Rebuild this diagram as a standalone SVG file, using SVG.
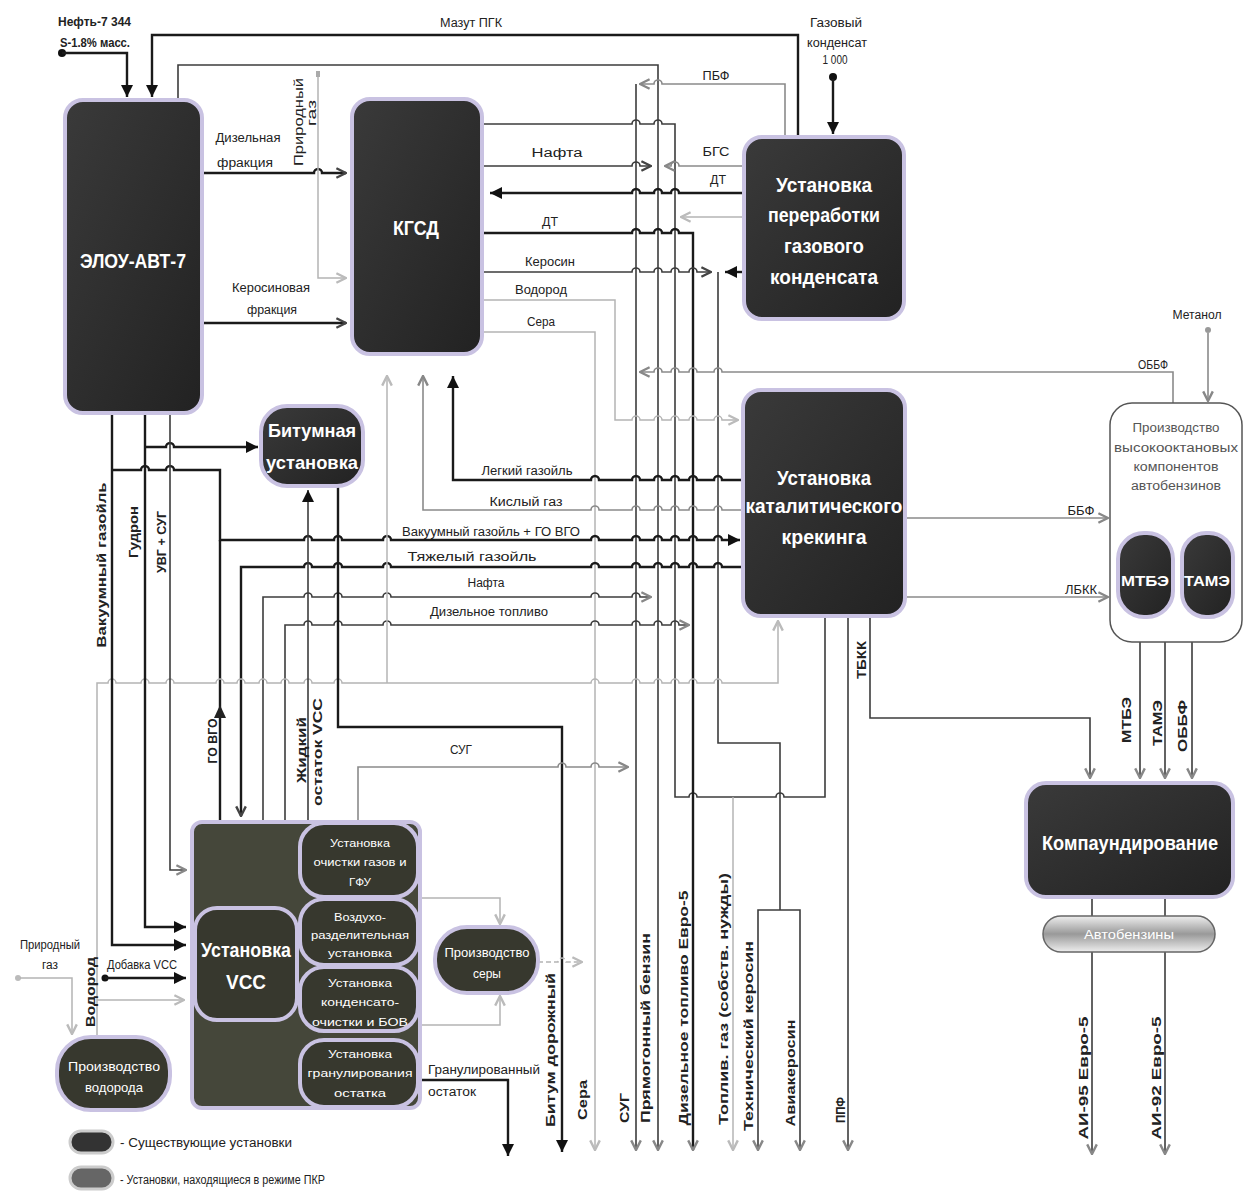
<svg xmlns="http://www.w3.org/2000/svg" width="1245" height="1192" viewBox="0 0 1245 1192">
<defs>
<style>
.k{stroke:#1a1a1a;stroke-width:2.4;fill:none}
.d{stroke:#3c3c3c;stroke-width:1.6;fill:none}
.g{stroke:#8a8a8a;stroke-width:1.6;fill:none}
.l{stroke:#b4b4b4;stroke-width:1.5;fill:none}
.n{fill:url(#dk);stroke:#c9c2e2;stroke-width:4}
.o{fill:#45473a;stroke:#c9c2e2;stroke-width:4}
.s{fill:#37382e;stroke:#c9c2e2;stroke-width:4}
text{font-family:"Liberation Sans Narrow","Liberation Sans",Arial,sans-serif}
.nt{font-weight:bold;fill:#fff;text-anchor:middle}
.st{fill:#fff;text-anchor:middle;font-size:11px}
.sb{fill:#fff;text-anchor:middle;font-size:13px}
.lb{fill:#222;font-size:12px;text-anchor:middle}
.rb{fill:#222;font-size:12px;font-weight:bold;text-anchor:middle}
.pt{fill:#555;font-size:12px;text-anchor:middle}
</style>
<linearGradient id="dk" x1="0" y1="0" x2="1" y2="1"><stop offset="0" stop-color="#3a3a3a"/><stop offset="1" stop-color="#222"/></linearGradient>
<linearGradient id="av" x1="0" y1="0" x2="0" y2="1"><stop offset="0" stop-color="#eee"/><stop offset="0.5" stop-color="#999"/><stop offset="1" stop-color="#eee"/></linearGradient>
<marker id="ak" viewBox="0 0 10 10" refX="10" refY="5" markerWidth="12" markerHeight="12" markerUnits="userSpaceOnUse" orient="auto-start-reverse"><path d="M0,0 L10,5 L0,10 z" fill="#111"/></marker>
<marker id="ad" viewBox="0 0 10 10" refX="9" refY="5" markerWidth="12" markerHeight="12" markerUnits="userSpaceOnUse" orient="auto-start-reverse"><path d="M1,1 L9,5 L1,9" fill="none" stroke="#444" stroke-width="2"/></marker>
<marker id="ag" viewBox="0 0 10 10" refX="9" refY="5" markerWidth="12" markerHeight="12" markerUnits="userSpaceOnUse" orient="auto-start-reverse"><path d="M1,1 L9,5 L1,9" fill="none" stroke="#888" stroke-width="2"/></marker>
<marker id="al" viewBox="0 0 10 10" refX="9" refY="5" markerWidth="12" markerHeight="12" markerUnits="userSpaceOnUse" orient="auto-start-reverse"><path d="M1,1 L9,5 L1,9" fill="none" stroke="#bbb" stroke-width="2"/></marker>
</defs>
<rect width="1245" height="1192" fill="#fff"/>

<g id="connectors">
<circle cx="62" cy="53" r="4" fill="#111"/>
<path class="k" d="M62,53 H127 V97" marker-end="url(#ak)"/>
<path class="k" d="M798,137 V35 H152 V97" marker-end="url(#ak)"/>
<path class="d" d="M178,100 V65 H658 V1150" marker-end="url(#ag)"/>
<path class="g" d="M640,84 H654 a4 4 0 0 1 8 0 H785 V137" marker-start="url(#ag)"/>
<path class="d" d="M636,84 V1150" marker-end="url(#ag)"/>
<path class="d" d="M483,124 H632 a4 4 0 0 1 8 0 H654 a4 4 0 0 1 8 0 H675 V797 H689 a4 4 0 0 1 8 0 H776 a4 4 0 0 1 8 0 H825 V617"/>
<path class="l" d="M733,797 V1150" marker-end="url(#al)"/>
<path class="d" d="M483,166 H632 a4 4 0 0 1 8 0 H651" marker-end="url(#ad)"/>
<path class="g" d="M665,166 H671 a4 4 0 0 1 8 0 H743" marker-start="url(#ag)"/>
<path class="k" d="M490,193 H632 a4 4 0 0 1 8 0 H654 a4 4 0 0 1 8 0 H671 a4 4 0 0 1 8 0 H743" marker-start="url(#ak)"/>
<path class="l" d="M681,217 H743" marker-start="url(#al)"/>
<path class="k" d="M483,233 H632 a4 4 0 0 1 8 0 H654 a4 4 0 0 1 8 0 H671 a4 4 0 0 1 8 0 H693 V1150" marker-end="url(#ag)"/>
<path class="d" d="M483,272 H632 a4 4 0 0 1 8 0 H654 a4 4 0 0 1 8 0 H671 a4 4 0 0 1 8 0 H689 a4 4 0 0 1 8 0 H711" marker-end="url(#ad)"/>
<path class="k" d="M725,272 H743" marker-start="url(#ak)"/>
<path class="d" d="M718,272 V743 H780 V910"/>
<path class="d" d="M758,1150 V910 H800 V1150" marker-start="url(#ag)" marker-end="url(#ag)"/>
<path class="l" d="M483,300 H615 V420 H632 a4 4 0 0 1 8 0 H654 a4 4 0 0 1 8 0 H671 a4 4 0 0 1 8 0 H689 a4 4 0 0 1 8 0 H714 a4 4 0 0 1 8 0 H738" marker-end="url(#al)"/>
<path class="l" d="M483,332 H595 V1150" marker-end="url(#al)"/>
<path class="g" d="M640,372 H654 a4 4 0 0 1 8 0 H671 a4 4 0 0 1 8 0 H689 a4 4 0 0 1 8 0 H714 a4 4 0 0 1 8 0 H1173 V403" marker-start="url(#ag)"/>
<circle cx="1208" cy="330" r="3" fill="#999"/>
<path class="g" d="M1208,333 V401" marker-end="url(#ag)"/>
<path class="k" d="M453,376 V480 H591 a4 4 0 0 1 8 0 H632 a4 4 0 0 1 8 0 H654 a4 4 0 0 1 8 0 H671 a4 4 0 0 1 8 0 H689 a4 4 0 0 1 8 0 H714 a4 4 0 0 1 8 0 H743" marker-start="url(#ak)"/>
<path class="g" d="M423,376 V510 H591 a4 4 0 0 1 8 0 H632 a4 4 0 0 1 8 0 H654 a4 4 0 0 1 8 0 H671 a4 4 0 0 1 8 0 H689 a4 4 0 0 1 8 0 H714 a4 4 0 0 1 8 0 H743" marker-start="url(#ag)"/>
<path class="k" d="M112,470 H141 a4 4 0 0 1 8 0 H166 a4 4 0 0 1 8 0 H220 V540 H304 a4 4 0 0 1 8 0 H334 a4 4 0 0 1 8 0 H383 a4 4 0 0 1 8 0 H591 a4 4 0 0 1 8 0 H632 a4 4 0 0 1 8 0 H654 a4 4 0 0 1 8 0 H671 a4 4 0 0 1 8 0 H689 a4 4 0 0 1 8 0 H714 a4 4 0 0 1 8 0 H740" marker-end="url(#ak)"/>
<path class="k" d="M220,820 V540"/>
<polygon points="214,718 220,705 226,718" fill="#222"/>
<path class="k" d="M241,816 V567 H304 a4 4 0 0 1 8 0 H334 a4 4 0 0 1 8 0 H383 a4 4 0 0 1 8 0 H591 a4 4 0 0 1 8 0 H632 a4 4 0 0 1 8 0 H654 a4 4 0 0 1 8 0 H671 a4 4 0 0 1 8 0 H689 a4 4 0 0 1 8 0 H714 a4 4 0 0 1 8 0 H743" marker-start="url(#ad)"/>
<path class="d" d="M263,820 V597 H304 a4 4 0 0 1 8 0 H334 a4 4 0 0 1 8 0 H383 a4 4 0 0 1 8 0 H591 a4 4 0 0 1 8 0 H632 a4 4 0 0 1 8 0 H651" marker-end="url(#ag)"/>
<path class="d" d="M285,820 V625 H304 a4 4 0 0 1 8 0 H334 a4 4 0 0 1 8 0 H383 a4 4 0 0 1 8 0 H591 a4 4 0 0 1 8 0 H632 a4 4 0 0 1 8 0 H654 a4 4 0 0 1 8 0 H671 a4 4 0 0 1 8 0 H689" marker-end="url(#ag)"/>
<path class="l" d="M97,1037 V683 H108 a4 4 0 0 1 8 0 H141 a4 4 0 0 1 8 0 H166 a4 4 0 0 1 8 0 H216 a4 4 0 0 1 8 0 H237 a4 4 0 0 1 8 0 H259 a4 4 0 0 1 8 0 H281 a4 4 0 0 1 8 0 H304 a4 4 0 0 1 8 0 H334 a4 4 0 0 1 8 0 H591 a4 4 0 0 1 8 0 H632 a4 4 0 0 1 8 0 H654 a4 4 0 0 1 8 0 H671 a4 4 0 0 1 8 0 H689 a4 4 0 0 1 8 0 H714 a4 4 0 0 1 8 0 H778 V621" marker-end="url(#al)"/>
<path class="l" d="M387,683 V376" marker-end="url(#al)"/>
<path class="l" d="M97,1000 H184" marker-end="url(#al)"/>
<path class="g" d="M905,518 H1108" marker-end="url(#ag)"/>
<path class="g" d="M905,597 H1108" marker-end="url(#ag)"/>
<path class="d" d="M870,617 V718 H1090 V778" marker-end="url(#ag)"/>
<path class="d" d="M848,617 V1150" marker-end="url(#ag)"/>
<path class="d" d="M1140,642 V778" marker-end="url(#ag)"/>
<path class="d" d="M1165,642 V778" marker-end="url(#ag)"/>
<path class="d" d="M1192,642 V778" marker-end="url(#ag)"/>
<path class="d" d="M1092,898 V1154" marker-end="url(#ag)"/>
<path class="d" d="M1165,898 V1154" marker-end="url(#ag)"/>
<circle cx="833" cy="77" r="4" fill="#111"/>
<path class="k" d="M833,79 V134" marker-end="url(#ak)"/>
<path class="k" d="M202,173 H314 a4 4 0 0 1 8 0 H346" marker-end="url(#ad)"/>
<rect x="316" y="71" width="4" height="6" fill="#aaa"/>
<path class="l" d="M318,77 V278 H346" marker-end="url(#al)"/>
<path class="k" d="M202,323 H346" marker-end="url(#ad)"/>
<path class="k" d="M112,413 V945 H186" marker-end="url(#ak)"/>
<path class="k" d="M145,413 V927 H186" marker-end="url(#ak)"/>
<path class="k" d="M145,447 H166 a4 4 0 0 1 8 0 H258" marker-end="url(#ak)"/>
<path class="d" d="M170,413 V870 H186" marker-end="url(#ag)"/>
<path class="d" d="M308,820 V490" marker-end="url(#ak)"/>
<path class="k" d="M338,486 V727 H562 V1152" marker-end="url(#ak)"/>
<path class="g" d="M358,820 V767 H558 a4 4 0 0 1 8 0 H591 a4 4 0 0 1 8 0 H628" marker-end="url(#ag)"/>
<path class="l" d="M420,898 H500 V924" marker-end="url(#al)"/>
<path class="l" d="M420,1025 H500 V996" marker-end="url(#al)"/>
<path class="l" d="M538,962 H558 a4 4 0 0 1 8 0 H582" stroke-dasharray="5 3" marker-end="url(#al)"/>
<path class="k" d="M420,1080 H508 V1156" marker-end="url(#ak)"/>
<circle cx="18" cy="978" r="3" fill="#bbb"/>
<path class="l" d="M20,978 H72 V1034" marker-end="url(#al)"/>
<circle cx="105" cy="978" r="3.5" fill="#111"/>
<path class="k" d="M105,978 H186" marker-end="url(#ak)"/>
</g>

<g id="n-elou"><rect class="n" x="65" y="100" width="137" height="313" rx="18"/><text class="nt" x="133" y="268" font-size="21" textLength="106" lengthAdjust="spacingAndGlyphs">ЭЛОУ-АВТ-7</text></g>
<g id="n-kgsd"><rect class="n" x="352" y="99" width="130" height="255" rx="18"/><text class="nt" x="416" y="235" font-size="21" textLength="46" lengthAdjust="spacingAndGlyphs">КГСД</text></g>
<g id="n-pgk"><rect class="n" x="744" y="137" width="160" height="182" rx="18"/>
<text class="nt" font-size="21" x="824" y="192" textLength="96" lengthAdjust="spacingAndGlyphs">Установка</text>
<text class="nt" font-size="21" x="824" y="222" textLength="112" lengthAdjust="spacingAndGlyphs">переработки</text>
<text class="nt" font-size="21" x="824" y="253" textLength="80" lengthAdjust="spacingAndGlyphs">газового</text>
<text class="nt" font-size="21" x="824" y="284" textLength="108" lengthAdjust="spacingAndGlyphs">конденсата</text></g>
<g id="n-bitum"><rect class="n" x="261" y="406" width="102" height="80" rx="26"/>
<text class="nt" font-size="19" x="312" y="437" textLength="88" lengthAdjust="spacingAndGlyphs">Битумная</text>
<text class="nt" font-size="19" x="312" y="469" textLength="92" lengthAdjust="spacingAndGlyphs">установка</text></g>
<g id="n-kk"><rect class="n" x="743" y="390" width="162" height="226" rx="18"/>
<text class="nt" font-size="21" x="824" y="485" textLength="94" lengthAdjust="spacingAndGlyphs">Установка</text>
<text class="nt" font-size="21" x="824" y="513" textLength="157" lengthAdjust="spacingAndGlyphs">каталитического</text>
<text class="nt" font-size="21" x="824" y="544" textLength="85" lengthAdjust="spacingAndGlyphs">крекинга</text></g>
<g id="n-vok"><rect x="1110" y="403" width="132" height="239" rx="22" fill="#fff" stroke="#555" stroke-width="1.5"/>
<text class="pt" x="1176" y="432" textLength="87" lengthAdjust="spacingAndGlyphs">Производство</text>
<text class="pt" x="1176" y="452" textLength="124" lengthAdjust="spacingAndGlyphs">высокооктановых</text>
<text class="pt" x="1176" y="471" textLength="85" lengthAdjust="spacingAndGlyphs">компонентов</text>
<text class="pt" x="1176" y="490" textLength="90" lengthAdjust="spacingAndGlyphs">автобензинов</text></g>
<g id="n-mtbe"><rect class="n" x="1118" y="533" width="55" height="84" rx="26"/><text class="nt" font-size="15" x="1145" y="586" textLength="48" lengthAdjust="spacingAndGlyphs">МТБЭ</text></g>
<g id="n-tame"><rect class="n" x="1182" y="533" width="51" height="84" rx="24"/><text class="nt" font-size="15" x="1207" y="586" textLength="46" lengthAdjust="spacingAndGlyphs">ТАМЭ</text></g>
<g id="n-komp"><rect class="n" x="1026" y="783" width="207" height="114" rx="20"/><text class="nt" font-size="20" x="1130" y="850" textLength="176" lengthAdjust="spacingAndGlyphs">Компаундирование</text></g>
<g id="n-avto"><rect x="1043" y="916" width="172" height="36" rx="18" fill="url(#av)" stroke="#666" stroke-width="1.5"/><text x="1129" y="939" font-size="12" fill="#fff" text-anchor="middle" textLength="90" lengthAdjust="spacingAndGlyphs">Автобензины</text></g>
<g id="n-vcc-complex"><rect class="o" x="192" y="822" width="228" height="286" rx="10"/></g>
<g id="n-vcc"><rect class="s" x="195" y="908" width="102" height="112" rx="22"/>
<text class="nt" font-size="21" x="246" y="957" textLength="90" lengthAdjust="spacingAndGlyphs">Установка</text>
<text class="nt" font-size="21" x="246" y="989" textLength="40" lengthAdjust="spacingAndGlyphs">VCC</text></g>
<g id="n-gfu"><rect class="s" x="300" y="823" width="118" height="74" rx="24"/>
<text class="st" x="360" y="847" textLength="60" lengthAdjust="spacingAndGlyphs">Установка</text>
<text class="st" x="360" y="866" textLength="93" lengthAdjust="spacingAndGlyphs">очистки газов и</text>
<text class="st" x="360" y="886" textLength="22" lengthAdjust="spacingAndGlyphs">ГФУ</text></g>
<g id="n-vru"><rect class="s" x="300" y="899" width="118" height="66" rx="24"/>
<text class="st" x="360" y="921" textLength="52" lengthAdjust="spacingAndGlyphs">Воздухо-</text>
<text class="st" x="360" y="939" textLength="98" lengthAdjust="spacingAndGlyphs">разделительная</text>
<text class="st" x="360" y="957" textLength="64" lengthAdjust="spacingAndGlyphs">установка</text></g>
<g id="n-bov"><rect class="s" x="300" y="967" width="118" height="64" rx="24"/>
<text class="st" x="360" y="987" textLength="64" lengthAdjust="spacingAndGlyphs">Установка</text>
<text class="st" x="360" y="1006" textLength="78" lengthAdjust="spacingAndGlyphs">конденсато-</text>
<text class="st" x="360" y="1026" textLength="96" lengthAdjust="spacingAndGlyphs">очистки и БОВ</text></g>
<g id="n-gran"><rect class="s" x="300" y="1040" width="118" height="67" rx="24"/>
<text class="st" x="360" y="1058" textLength="64" lengthAdjust="spacingAndGlyphs">Установка</text>
<text class="st" x="360" y="1077" textLength="105" lengthAdjust="spacingAndGlyphs">гранулирования</text>
<text class="st" x="360" y="1097" textLength="52" lengthAdjust="spacingAndGlyphs">остатка</text></g>
<g id="n-sera"><rect class="s" x="435" y="927" width="103" height="66" rx="32"/>
<text class="sb" x="487" y="957" textLength="85" lengthAdjust="spacingAndGlyphs">Производство</text>
<text class="sb" x="487" y="978" textLength="28" lengthAdjust="spacingAndGlyphs">серы</text></g>
<g id="n-h2"><rect class="s" x="57" y="1037" width="113" height="73" rx="34"/>
<text class="sb" x="114" y="1071" textLength="92" lengthAdjust="spacingAndGlyphs">Производство</text>
<text class="sb" x="114" y="1092" textLength="58" lengthAdjust="spacingAndGlyphs">водорода</text></g>

<g id="legend">
<rect x="70" y="1131" width="43" height="22" rx="11" fill="#333" stroke="#ccc" stroke-width="3"/>
<text x="120" y="1147" font-size="12" fill="#222" textLength="172" lengthAdjust="spacingAndGlyphs">- Существующие установки</text>
<rect x="70" y="1167" width="43" height="22" rx="11" fill="#666" stroke="#ccc" stroke-width="3"/>
<text x="120" y="1184" font-size="12" fill="#222" textLength="205" lengthAdjust="spacingAndGlyphs">- Установки, находящиеся в режиме ПКР</text>
</g>

<g id="labels">
<text x="58" y="26" font-size="12" font-weight="bold" fill="#222" textLength="73" lengthAdjust="spacingAndGlyphs">Нефть-7 344</text>
<text x="60" y="47" font-size="12" font-weight="bold" fill="#222" textLength="70" lengthAdjust="spacingAndGlyphs">S-1.8% масс.</text>
<text class="lb" x="471" y="27" textLength="62" lengthAdjust="spacingAndGlyphs">Мазут ПГК</text>
<text class="lb" x="836" y="27" textLength="52" lengthAdjust="spacingAndGlyphs">Газовый</text>
<text class="lb" x="837" y="47" textLength="60" lengthAdjust="spacingAndGlyphs">конденсат</text>
<text class="lb" x="835" y="64" textLength="25" lengthAdjust="spacingAndGlyphs">1 000</text>
<text class="lb" x="716" y="80" textLength="27" lengthAdjust="spacingAndGlyphs">ПБФ</text>
<text class="lb" x="248" y="142" textLength="65" lengthAdjust="spacingAndGlyphs">Дизельная</text>
<text class="lb" x="245" y="167" textLength="56" lengthAdjust="spacingAndGlyphs">фракция</text>
<text class="lb" transform="translate(303,122) rotate(-90)" textLength="88" lengthAdjust="spacingAndGlyphs">Природный</text>
<text class="lb" transform="translate(316,113) rotate(-90)" textLength="26" lengthAdjust="spacingAndGlyphs">газ</text>
<text class="lb" x="557" y="157" textLength="51" lengthAdjust="spacingAndGlyphs">Нафта</text>
<text class="lb" x="716" y="156" textLength="27" lengthAdjust="spacingAndGlyphs">БГС</text>
<text class="lb" x="718" y="184" textLength="16" lengthAdjust="spacingAndGlyphs">ДТ</text>
<text class="lb" x="550" y="226" textLength="16" lengthAdjust="spacingAndGlyphs">ДТ</text>
<text class="lb" x="550" y="266" textLength="50" lengthAdjust="spacingAndGlyphs">Керосин</text>
<text class="lb" x="541" y="294" textLength="52" lengthAdjust="spacingAndGlyphs">Водород</text>
<text class="lb" x="541" y="326" textLength="28" lengthAdjust="spacingAndGlyphs">Сера</text>
<text class="lb" x="271" y="292" textLength="78" lengthAdjust="spacingAndGlyphs">Керосиновая</text>
<text class="lb" x="272" y="314" textLength="50" lengthAdjust="spacingAndGlyphs">фракция</text>
<text class="lb" x="1153" y="369" textLength="30" lengthAdjust="spacingAndGlyphs">ОББФ</text>
<text class="lb" x="1197" y="319" textLength="49" lengthAdjust="spacingAndGlyphs">Метанол</text>
<text class="lb" x="527" y="475" textLength="91" lengthAdjust="spacingAndGlyphs">Легкий газойль</text>
<text class="lb" x="526" y="506" textLength="73" lengthAdjust="spacingAndGlyphs">Кислый газ</text>
<text class="lb" x="491" y="536" textLength="178" lengthAdjust="spacingAndGlyphs">Вакуумный газойль + ГО ВГО</text>
<text class="lb" x="472" y="561" textLength="129" lengthAdjust="spacingAndGlyphs">Тяжелый газойль</text>
<text class="lb" x="486" y="587" textLength="37" lengthAdjust="spacingAndGlyphs">Нафта</text>
<text class="lb" x="489" y="616" textLength="118" lengthAdjust="spacingAndGlyphs">Дизельное топливо</text>
<text class="lb" x="1081" y="515" textLength="27" lengthAdjust="spacingAndGlyphs">ББФ</text>
<text class="lb" x="1081" y="594" textLength="32" lengthAdjust="spacingAndGlyphs">ЛБКК</text>
<text class="rb" transform="translate(866,660) rotate(-90)" textLength="38" lengthAdjust="spacingAndGlyphs">ТБКК</text>
<text class="rb" transform="translate(1131,720) rotate(-90)" textLength="46" lengthAdjust="spacingAndGlyphs">МТБЭ</text>
<text class="rb" transform="translate(1162,723) rotate(-90)" textLength="46" lengthAdjust="spacingAndGlyphs">ТАМЭ</text>
<text class="rb" transform="translate(1187,726) rotate(-90)" textLength="52" lengthAdjust="spacingAndGlyphs">ОББФ</text>
<text class="rb" transform="translate(1088,1078) rotate(-90)" textLength="123" lengthAdjust="spacingAndGlyphs">АИ-95 Евро-5</text>
<text class="rb" transform="translate(1161,1078) rotate(-90)" textLength="123" lengthAdjust="spacingAndGlyphs">АИ-92 Евро-5</text>
<text class="rb" transform="translate(106,565) rotate(-90)" textLength="165" lengthAdjust="spacingAndGlyphs">Вакуумный газойль</text>
<text class="rb" transform="translate(138,532) rotate(-90)" textLength="52" lengthAdjust="spacingAndGlyphs">Гудрон</text>
<text class="rb" transform="translate(166,542) rotate(-90)" textLength="62" lengthAdjust="spacingAndGlyphs">УВГ + СУГ</text>
<text class="rb" transform="translate(217,741) rotate(-90)" textLength="45" lengthAdjust="spacingAndGlyphs">ГО ВГО</text>
<text class="rb" transform="translate(306,750) rotate(-90)" textLength="66" lengthAdjust="spacingAndGlyphs">Жидкий</text>
<text class="rb" transform="translate(322,752) rotate(-90)" textLength="108" lengthAdjust="spacingAndGlyphs">остаток VCC</text>
<text class="lb" x="461" y="754" textLength="22" lengthAdjust="spacingAndGlyphs">СУГ</text>
<text class="rb" transform="translate(95,992) rotate(-90)" textLength="70" lengthAdjust="spacingAndGlyphs">Водород</text>
<text class="lb" x="50" y="949" textLength="60" lengthAdjust="spacingAndGlyphs">Природный</text>
<text class="lb" x="50" y="969" textLength="16" lengthAdjust="spacingAndGlyphs">газ</text>
<text class="lb" x="142" y="969" textLength="70" lengthAdjust="spacingAndGlyphs">Добавка VCC</text>
<text x="428" y="1074" font-size="12" fill="#222" textLength="112" lengthAdjust="spacingAndGlyphs">Гранулированный</text>
<text x="428" y="1096" font-size="12" fill="#222" textLength="48" lengthAdjust="spacingAndGlyphs">остаток</text>
<text class="rb" transform="translate(555,1050) rotate(-90)" textLength="154" lengthAdjust="spacingAndGlyphs">Битум дорожный</text>
<text class="rb" transform="translate(587,1100) rotate(-90)" textLength="40" lengthAdjust="spacingAndGlyphs">Сера</text>
<text class="rb" transform="translate(629,1108) rotate(-90)" textLength="30" lengthAdjust="spacingAndGlyphs">СУГ</text>
<text class="rb" transform="translate(650,1028) rotate(-90)" textLength="190" lengthAdjust="spacingAndGlyphs">Прямогонный бензин</text>
<text class="rb" transform="translate(688,1008) rotate(-90)" textLength="235" lengthAdjust="spacingAndGlyphs">Дизельное топливо Евро-5</text>
<text class="rb" transform="translate(728,999) rotate(-90)" textLength="252" lengthAdjust="spacingAndGlyphs">Топлив. газ  (собств. нужды)</text>
<text class="rb" transform="translate(753,1036) rotate(-90)" textLength="190" lengthAdjust="spacingAndGlyphs">Технический керосин</text>
<text class="rb" transform="translate(795,1073) rotate(-90)" textLength="107" lengthAdjust="spacingAndGlyphs">Авиакеросин</text>
<text class="rb" transform="translate(845,1110) rotate(-90)" textLength="26" lengthAdjust="spacingAndGlyphs">ППФ</text>
</g>
</svg>
